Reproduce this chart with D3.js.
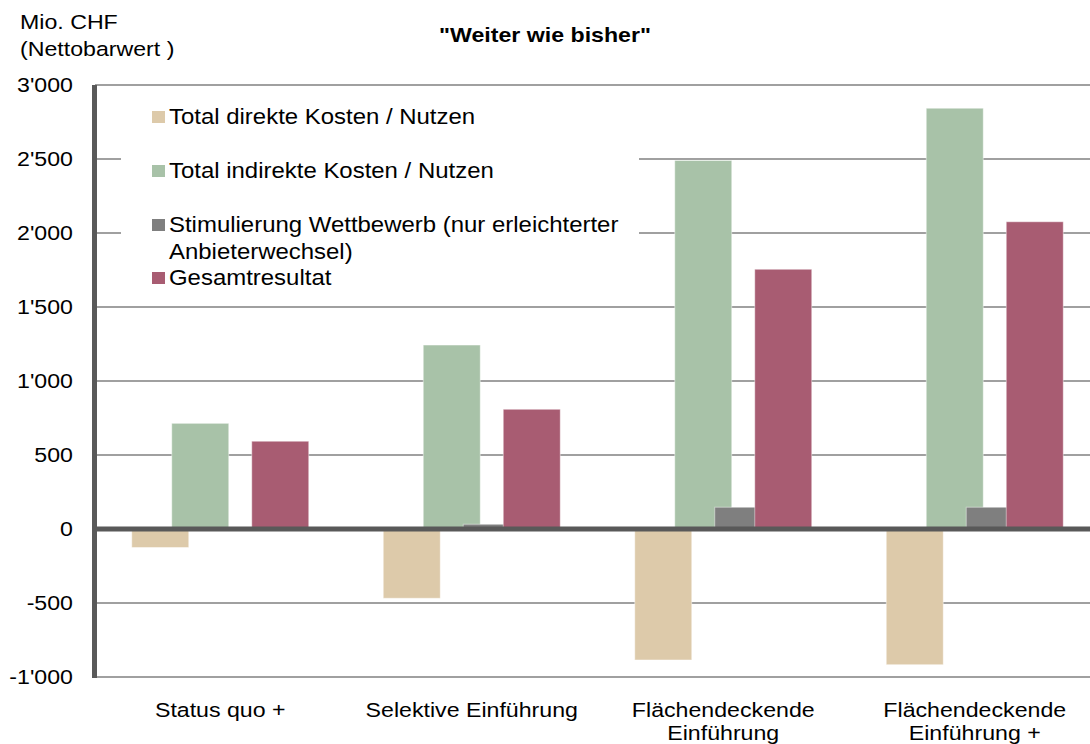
<!DOCTYPE html>
<html>
<head>
<meta charset="utf-8">
<script src="https://cdn.jsdelivr.net/npm/d3@7"></script>
<style>
    body { margin: 0; background: #fff; }
    svg text { font-family: "Liberation Sans", Arial, sans-serif; fill: #000; }
</style>
</head>
<body>
<svg id="chart" width="1090" height="744"></svg>
<script>
// data
let categories = [["Status quo +"], ["Selektive Einführung"], ["Flächendeckende", "Einführung"], ["Flächendeckende", "Einführung +"]];
let seriesNames = ["Total direkte Kosten / Nutzen", "Total indirekte Kosten / Nutzen", "Stimulierung Wettbewerb (nur erleichterter|Anbieterwechsel)", "Gesamtresultat"];
let direkt = [-125, -468, -885, -917];
let indirekt = [714, 1243, 2490, 2843];
let wettbewerb = [0, 32, 147, 147];
let gesamt = [593, 809, 1755, 2076];
let yTicks = [-1000, -500, 0, 500, 1000, 1500, 2000, 2500, 3000];
let colors = ["#ddcaaa", "#a8c2a8", "#7f7f7f", "#a85c72"];

let series = [direkt, indirekt, wettbewerb, gesamt];
let svg = d3.select('#chart');
let fs = 20.5;
let stretch = 1.13; // the reference text runs a bit wider than plain arial

let x = d3.scaleBand().domain(d3.range(categories.length)).range([94.5, 1100.5]).padding(0);
let off = d3.scalePoint().domain(d3.range(series.length)).range([-60, 60]); // bars overlap like excel
let y = d3.scaleLinear().domain([-1000, 3000]).range([677, 85]);
let barW = 57;

function label(parent, px, py, str, anchor, size){
    return parent.append('text')
        .attr('transform', `translate(${px},${py}) scale(${stretch},1)`)
        .attr('text-anchor', anchor || 'start')
        .attr('font-size', size || fs)
        .text(str);
}

// gridlines
svg.append('g').selectAll('line')
    .data(yTicks.filter(d => d != 0))
    .join('line')
    .attr('x1', 95).attr('x2', 1090)
    .attr('y1', d => y(d)).attr('y2', d => y(d))
    .attr('stroke', '#808080').attr('stroke-width', 1.7);

// legend box hides part of the grid
let legend = svg.append('g');
legend.append('rect')
    .attr('x', 121).attr('y', 96).attr('width', 518).attr('height', 198)
    .attr('fill', '#fff');
let legendBase = [124, 178, 232, 285];
seriesNames.forEach((name, i) => {
    legend.append('rect')
        .attr('x', 152).attr('y', legendBase[i] - 13)
        .attr('width', 13).attr('height', 12)
        .attr('fill', colors[i]);
    name.split('|').forEach((line, j) => {
        label(legend, 169, legendBase[i] + j * 26.5, line, 'start', 21.2);
    });
});

// bars
series.forEach((vals, s) => {
    svg.append('g').selectAll('rect')
        .data(vals)
        .join('rect')
        .attr('x', (d, i) => x(i) + x.bandwidth() / 2 + off(s) - barW / 2)
        .attr('width', barW)
        .attr('y', d => y(Math.max(d, 0)))
        .attr('height', d => Math.abs(y(d) - y(0)))
        .attr('fill', colors[s])
        .attr('stroke', 'rgba(255,255,255,0.45)').attr('stroke-width', 1);
});

// zero line and y axis
svg.append('line')
    .attr('x1', 95).attr('x2', 1090)
    .attr('y1', y(0)).attr('y2', y(0))
    .attr('stroke', '#595959').attr('stroke-width', 5);
svg.append('line')
    .attr('x1', 94.5).attr('x2', 94.5)
    .attr('y1', y(3000)).attr('y2', y(-1000) + 1)
    .attr('stroke', '#595959').attr('stroke-width', 5);

// tick labels
let fmt = d => d3.format(',')(d).replace(/,/g, "'").replace('−', '-');
let tickG = svg.append('g');
yTicks.forEach(d => {
    label(tickG, 73, y(d) + 7.4, fmt(d), 'end');
});

// category labels
categories.forEach((lines, i) => {
    lines.forEach((line, j) => {
        label(svg, x(i) + x.bandwidth() / 2, 717 + j * 23, line, 'middle');
    });
});

// titles
label(svg, 20, 29, 'Mio. CHF');
label(svg, 20, 56, '(Nettobarwert )');
label(svg, 545, 42, '"Weiter wie bisher"', 'middle').attr('font-weight', 'bold');
</script>
</body>
</html>
